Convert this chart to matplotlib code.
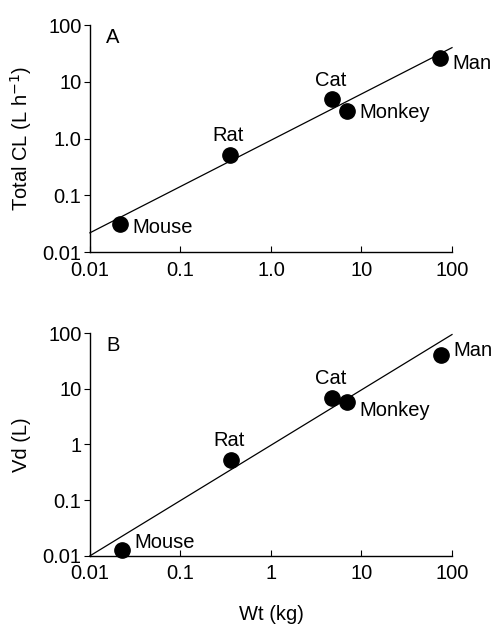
import numpy as np
import matplotlib
matplotlib.use('Agg')
import matplotlib.pyplot as plt
from matplotlib.ticker import NullLocator, FixedLocator

plt.rcParams['font.family'] = ['Liberation Sans', 'DejaVu Sans']

species = ['Mouse', 'Rat', 'Cat', 'Monkey', 'Man']
wt = [0.0215, 0.35, 4.7, 6.9, 73]
cl = [0.031, 0.52, 4.9, 3.1, 26]
vd_wt = [0.0225, 0.36, 4.7, 6.9, 76]
vd = [0.013, 0.53, 6.9, 5.7, 41]

# fitted lines (end points)
fit_x = [0.01, 100]
fit_cl = [0.022, 40]
fit_vd = [0.01, 94]

ticks = [0.01, 0.1, 1, 10, 100]
labels_a = ['0.01', '0.1', '1.0', '10', '100']
labels_b = ['0.01', '0.1', '1', '10', '100']

# label offsets (points) for each species
offs_a = [(9, -2), (-1, 14), (-1, 14), (9, -1), (9, -4)]
offs_b = [(9, 5), (-1, 14), (-1, 14), (9, -6), (9, 3)]

FS = 14.5

fig = plt.figure(figsize=(4.94, 6.26), dpi=100)
ax1 = fig.add_axes([0.182, 0.597, 0.733, 0.363])
ax2 = fig.add_axes([0.182, 0.112, 0.733, 0.356])


def style(ax, xlabels, ylabels):
    ax.set_xscale('log')
    ax.set_yscale('log')
    ax.set_xlim(0.01, 100)
    ax.set_ylim(0.01, 100)
    ax.spines['top'].set_visible(False)
    ax.spines['right'].set_visible(False)
    ax.xaxis.set_major_locator(FixedLocator(ticks))
    ax.yaxis.set_major_locator(FixedLocator(ticks))
    ax.xaxis.set_minor_locator(NullLocator())
    ax.yaxis.set_minor_locator(NullLocator())
    ax.set_xticklabels(xlabels)
    ax.set_yticklabels(ylabels)
    ax.tick_params(axis='x', direction='in', length=4, labelsize=FS, pad=6)
    ax.tick_params(axis='y', direction='out', length=4, labelsize=FS, pad=2)
    for s in ax.spines.values():
        s.set_linewidth(1.0)


for ax, x, y, fy, offs, tag, lab in [
        (ax1, wt, cl, fit_cl, offs_a, 'A', labels_a),
        (ax2, vd_wt, vd, fit_vd, offs_b, 'B', labels_b)]:
    style(ax, lab, lab)
    ax.plot(fit_x, fy, color='black', lw=0.9, clip_on=False)
    ax.plot(x, y, 'o', color='black', markersize=11, clip_on=False, zorder=3)
    for name, xi, yi, o in zip(species, x, y, offs):
        ax.annotate(name, (xi, yi), xytext=o, textcoords='offset points',
                    fontsize=FS, ha='left' if o[0] > 0 else 'center', va='center')
    ax.text(0.045, 0.985, tag, transform=ax.transAxes, fontsize=FS, va='top')

ax1.set_ylabel('Total CL (L h$^{-1}$)', fontsize=FS, labelpad=6)
ax2.set_ylabel('Vd (L)', fontsize=FS, labelpad=8)
ax2.set_xlabel('Wt (kg)', fontsize=FS, labelpad=16)

plt.savefig('out.png', dpi=100)
